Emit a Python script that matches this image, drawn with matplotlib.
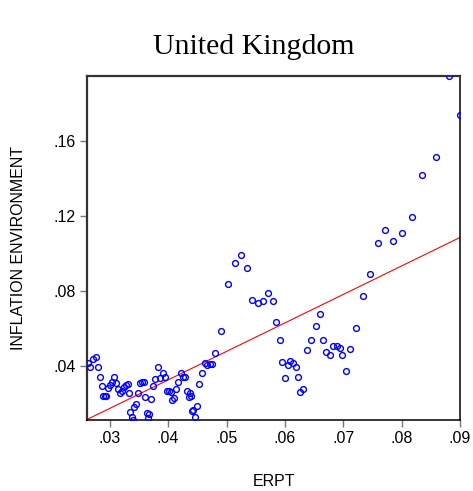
import matplotlib
matplotlib.use('Agg')
import matplotlib.pyplot as plt
import numpy as np

# data (ERPT vs inflation environment)
erpt = [0.02627, 0.02656, 0.02713, 0.02759, 0.02799, 0.02840, 0.02868, 0.02885,
        0.02914, 0.02931, 0.02966, 0.03000, 0.03040, 0.03074, 0.03108, 0.03143,
        0.03172, 0.03206, 0.03241, 0.03275, 0.03309, 0.03332, 0.03344, 0.03373,
        0.03390, 0.03412, 0.03447, 0.03486, 0.03515, 0.03550, 0.03584, 0.03607,
        0.03631, 0.03648, 0.03675, 0.03699, 0.03734, 0.03778, 0.03830, 0.03859,
        0.03916, 0.03945, 0.03974, 0.04009, 0.04043, 0.04060, 0.04094, 0.04134,
        0.04174, 0.04215, 0.04249, 0.04289, 0.04318, 0.04352, 0.04375, 0.04397,
        0.04414, 0.04431, 0.04455, 0.04490, 0.04524, 0.04581, 0.04632, 0.04672,
        0.04718, 0.04747, 0.04809, 0.04907, 0.05027, 0.05142, 0.05256, 0.05348,
        0.05440, 0.05531, 0.05623, 0.05715, 0.05789, 0.05852, 0.05909, 0.05950,
        0.05995, 0.06046, 0.06093, 0.06139, 0.06184, 0.06218, 0.06253, 0.06311,
        0.06380, 0.06448, 0.06540, 0.06596, 0.06655, 0.06706, 0.06768, 0.06826,
        0.06895, 0.06947, 0.06986, 0.07050, 0.07124, 0.07215, 0.07330, 0.07455,
        0.07593, 0.07720, 0.07857, 0.08000, 0.08172, 0.08356, 0.08596, 0.08808,
        0.08997]
infl = [0.0414, 0.0393, 0.0437, 0.0450, 0.0396, 0.0343, 0.0293, 0.0240,
        0.0240, 0.0240, 0.0281, 0.0299, 0.0316, 0.0340, 0.0308, 0.0276,
        0.0258, 0.0268, 0.0290, 0.0299, 0.0304, 0.0258, 0.0156, 0.0130,
        0.0112, 0.0183, 0.0196, 0.0258, 0.0308, 0.0316, 0.0315, 0.0233,
        0.0151, 0.0121, 0.0144, 0.0224, 0.0295, 0.0331, 0.0396, 0.0338,
        0.0364, 0.0343, 0.0267, 0.0268, 0.0263, 0.0219, 0.0228, 0.0277,
        0.0316, 0.0364, 0.0340, 0.0340, 0.0267, 0.0233, 0.0258, 0.0240,
        0.0160, 0.0165, 0.0130, 0.0187, 0.0304, 0.0361, 0.0414, 0.0405,
        0.0409, 0.0411, 0.0468, 0.0588, 0.0837, 0.0951, 0.0994, 0.0923,
        0.0750, 0.0734, 0.0745, 0.0791, 0.0745, 0.0636, 0.0537, 0.0420,
        0.0334, 0.0405, 0.0428, 0.0414, 0.0393, 0.0343, 0.0263, 0.0277,
        0.0485, 0.0537, 0.0615, 0.0677, 0.0539, 0.0476, 0.0460, 0.0507,
        0.0507, 0.0496, 0.0457, 0.0373, 0.0489, 0.0603, 0.0773, 0.0891,
        0.1054, 0.1125, 0.1067, 0.1111, 0.1195, 0.1420, 0.1516, 0.1947,
        0.1742]

# fitted line (intercept, slope) as shown in the chart
fit_intercept = -0.0282
fit_slope = 1.520

xticks = [0.03, 0.04, 0.05, 0.06, 0.07, 0.08, 0.09]
xticklabels = ['.03', '.04', '.05', '.06', '.07', '.08', '.09']
yticks = [0.04, 0.08, 0.12, 0.16]
yticklabels = ['.04', '.08', '.12', '.16']

xmin, xmax = 0.0261, 0.09
ymin, ymax = 0.0112, 0.1947

fig = plt.figure(figsize=(4.73, 4.91), dpi=100)
ax = fig.add_axes([0.184, 0.1446, 0.7885, 0.7004])

ax.plot(erpt, infl, 'o', mfc='none', mec='#0000ff', ms=4.2, mew=1.0, zorder=3)

xl = np.array([xmin, xmax])
ax.plot(xl, fit_intercept + fit_slope * xl, color='#ff0000', lw=0.8, zorder=2)

ax.set_xlim(xmin, xmax)
ax.set_ylim(ymin, ymax)
ax.set_xticks(xticks)
ax.set_xticklabels(xticklabels)
ax.set_yticks(yticks)
ax.set_yticklabels(yticklabels)

for lab in ax.get_xticklabels() + ax.get_yticklabels():
    lab.set_fontfamily('Liberation Sans')
    lab.set_fontsize(11.5)
ax.tick_params(direction='out', length=5, width=1, color='#777777', pad=3)

for s in ['left', 'top']:
    ax.spines[s].set_linewidth(1.6)
    ax.spines[s].set_color('#333333')
for s in ['right', 'bottom']:
    ax.spines[s].set_linewidth(1.1)
    ax.spines[s].set_color('black')

ax.set_xlabel('ERPT', family='Liberation Sans', fontsize=11.5, labelpad=20)
ax.set_ylabel('INFLATION ENVIRONMENT', family='Liberation Sans', fontsize=11.5, labelpad=20)

fig.text(0.537, 0.905, 'United Kingdom', family='Liberation Serif', fontsize=21.5,
         ha='center', va='center')

plt.savefig('out.png', dpi=100)
